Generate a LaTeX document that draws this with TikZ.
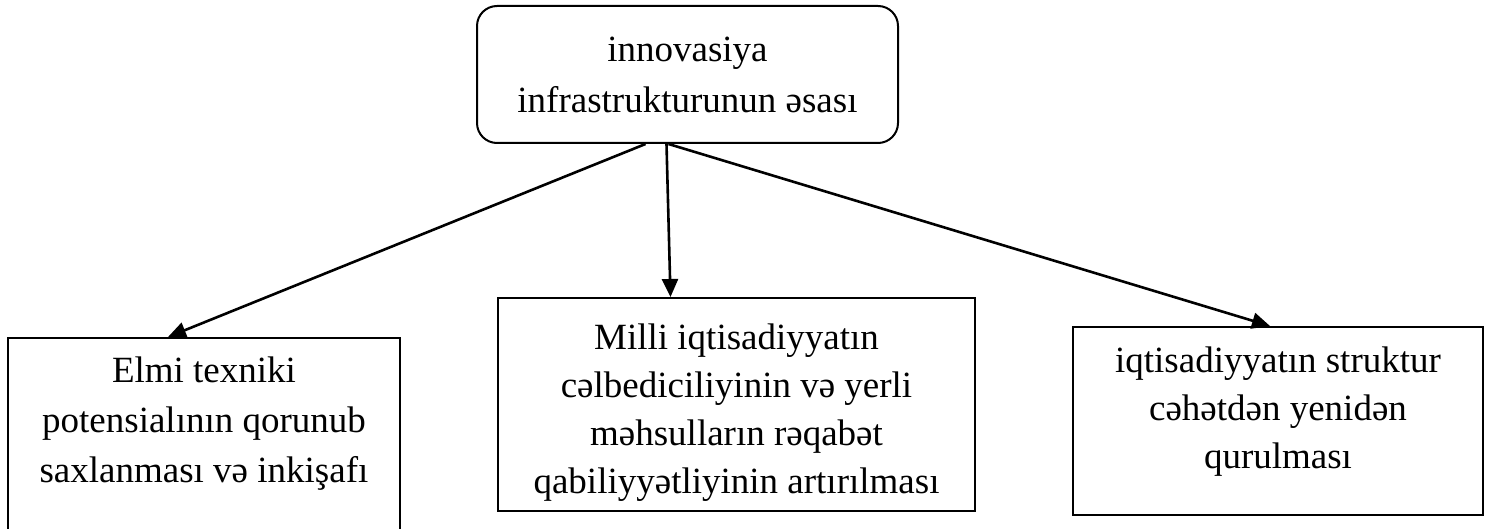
\documentclass[tikz,border=0pt]{standalone}
\usepackage{fontspec}
\setmainfont{Liberation Serif}
\usetikzlibrary{arrows.meta}

\begin{document}
\begin{tikzpicture}[x=1pt, y=-1pt,
    basis/.style ={rectangle, draw, line width=2pt, rounded corners=20pt,
       minimum width=421pt, minimum height=137pt, align=center,
       font=\fontsize{37}{51}\selectfont},
    direction/.style ={rectangle, draw, line width=2pt, align=center,
       font=\fontsize{37}{48}\selectfont},
    link/.style ={line width=2.6pt, -{Triangle[length=18pt,width=16pt]}}]
   \useasboundingbox (0,0) rectangle (1490,529);
   \node[basis] (B) at (687.5,74.5) {innovasiya\\ infrastrukturunun əsası};
   \node[direction, minimum width=392pt, anchor=north, inner ysep=19pt,
       text depth=60pt, font=\fontsize{37}{50}\selectfont] (E) at (204,337)
       {Elmi texniki\\ potensialının qorunub\\ saxlanması və inkişafı};
   \node[direction, minimum width=477pt, minimum height=213pt,
       text height=185pt] (M) at (736.5,404.5)
       {Milli iqtisadiyyatın\\ cəlbediciliyinin və yerli\\ məhsulların rəqabət\\ qabiliyyətliyinin artırılması};
   \node[direction, minimum width=410pt, minimum height=188pt,
       text depth=26pt] (S) at (1278,421)
       {iqtisadiyyatın struktur\\ cəhətdən yenidən\\ qurulması};


   \draw[link] ([xshift=-42pt]B.south) to ([xshift=-36pt]E.north);
   \draw[link] ([xshift=-21pt]B.south) to ([xshift=-66pt]M.north);
   \draw[link] ([xshift=-19pt]B.south) to ([xshift=-8pt]S.north);
 \end{tikzpicture}
\end{document}
